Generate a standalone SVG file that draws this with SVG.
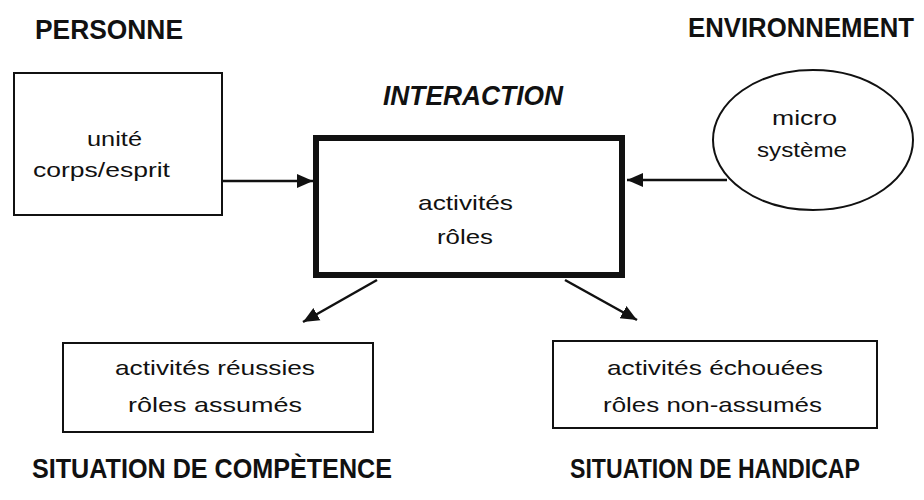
<svg xmlns="http://www.w3.org/2000/svg" width="924" height="500" viewBox="0 0 924 500">
<style>
.head{font-family:"Liberation Sans",Arial,sans-serif;font-weight:bold;font-size:27px;fill:#111}
.body{font-family:"Liberation Sans",Arial,sans-serif;font-size:21px;fill:#111}
.box{fill:#fff;stroke:#111;stroke-width:2}
.conn{stroke:#111;stroke-width:2.5;fill:none;marker-end:url(#arr)}
</style>
<defs>
<marker id="arr" markerUnits="userSpaceOnUse" markerWidth="18" markerHeight="18" refX="16" refY="8" orient="auto">
<path d="M0,1 L16,8 L0,15 z" fill="#111"/>
</marker>
</defs>
<rect width="924" height="500" fill="#fff"/>
<g id="titles">
<text class="head" x="35" y="39" textLength="148" lengthAdjust="spacingAndGlyphs">PERSONNE</text>
<text class="head" x="688" y="37" textLength="226" lengthAdjust="spacingAndGlyphs">ENVIRONNEMENT</text>
<text class="head" x="383" y="105" font-size="22" font-style="italic" textLength="180" lengthAdjust="spacingAndGlyphs">INTERACTION</text>
<text class="head" x="32" y="478" textLength="360" lengthAdjust="spacingAndGlyphs">SITUATION DE COMPÈTENCE</text>
<text class="head" x="570" y="478" textLength="290" lengthAdjust="spacingAndGlyphs">SITUATION DE HANDICAP</text>
</g>
<g id="connectors">
<line class="conn" x1="222" y1="181" x2="313" y2="181"/>
<line class="conn" x1="727" y1="180" x2="627" y2="180"/>
<line class="conn" x1="377" y1="280" x2="303" y2="322"/>
<line class="conn" x1="565" y1="280" x2="637" y2="320"/>
</g>
<g id="personne">
<rect class="box" x="14" y="73" width="208" height="142"/>
<text class="body" x="87" y="146" textLength="55" lengthAdjust="spacingAndGlyphs">unité</text>
<text class="body" x="33" y="177" textLength="137" lengthAdjust="spacingAndGlyphs">corps/esprit</text>
</g>
<g id="interaction">
<rect x="316" y="138" width="306" height="137" fill="#fff" stroke="#111" stroke-width="6"/>
<text class="body" x="418" y="210" textLength="95" lengthAdjust="spacingAndGlyphs">activités</text>
<text class="body" x="437" y="244" textLength="56" lengthAdjust="spacingAndGlyphs">rôles</text>
</g>
<g id="environnement">
<ellipse cx="813" cy="140" rx="100" ry="70" fill="#fff" stroke="#111" stroke-width="2"/>
<text class="body" x="772" y="125" textLength="65" lengthAdjust="spacingAndGlyphs">micro</text>
<text class="body" x="757" y="157" textLength="90" lengthAdjust="spacingAndGlyphs">système</text>
</g>
<g id="competence">
<rect class="box" x="63" y="343" width="310" height="89"/>
<text class="body" x="115" y="375" textLength="200" lengthAdjust="spacingAndGlyphs">activités réussies</text>
<text class="body" x="128" y="412" textLength="174" lengthAdjust="spacingAndGlyphs">rôles assumés</text>
</g>
<g id="handicap">
<rect class="box" x="553" y="341" width="324" height="87"/>
<text class="body" x="607" y="375" textLength="216" lengthAdjust="spacingAndGlyphs">activités échouées</text>
<text class="body" x="603" y="412" textLength="219" lengthAdjust="spacingAndGlyphs">rôles non-assumés</text>
</g>
</svg>
